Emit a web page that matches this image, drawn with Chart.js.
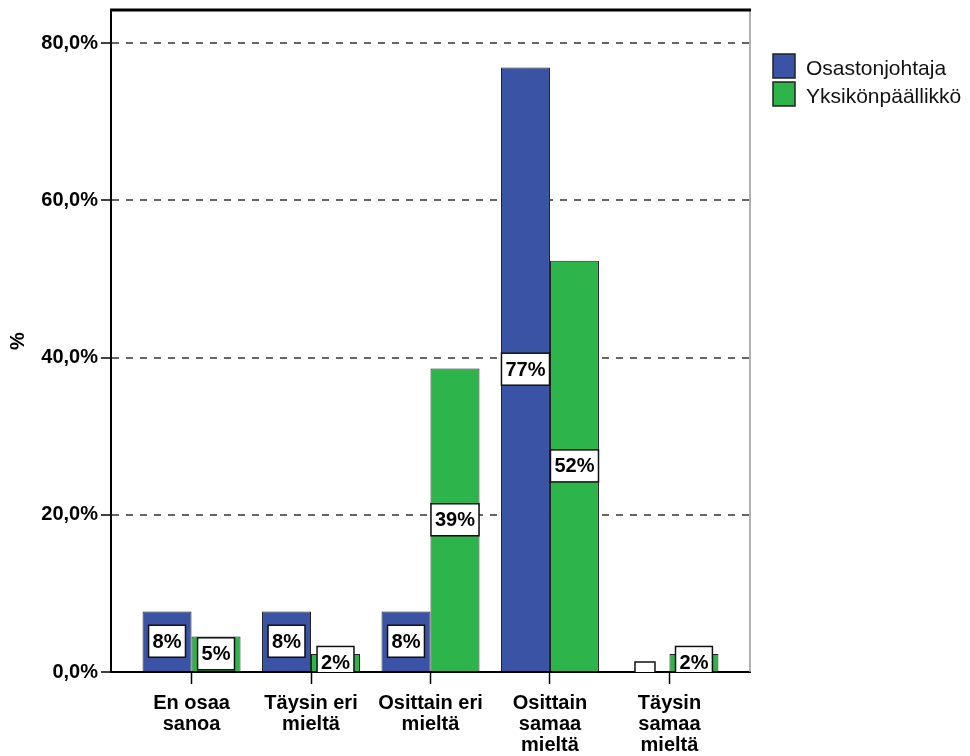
<!DOCTYPE html>
<html>
<head>
<meta charset="utf-8">
<script src="https://cdn.jsdelivr.net/npm/chart.js@4/dist/chart.umd.min.js"></script>
<style>
  html, body { margin: 0; padding: 0; background: #fff; }
  canvas { display: block; }
</style>
</head>
<body>
<canvas id="c" width="970" height="756"></canvas>
<script>
// Answer categories (multi-line axis labels)
const categories = [
  ['En osaa', 'sanoa'],
  ['Täysin eri', 'mieltä'],
  ['Osittain eri', 'mieltä'],
  ['Osittain', 'samaa', 'mieltä'],
  ['Täysin', 'samaa', 'mieltä']
];
// Share of respondents (%) per group
const osastonjohtaja = [7.7, 7.7, 7.7, 76.9, 0];
const yksikonpaallikko = [4.5, 2.3, 38.6, 52.3, 2.3];
const seriesNames = ['Osastonjohtaja', 'Yksikönpäällikkö'];
const yTicks = [0, 20, 40, 60, 80];

const FONT = "'Liberation Sans', Arial, sans-serif";
const BLUE = '#3a53a5';
const GREEN = '#2db44b';

const toPoints = vals => vals.map((v, i) => ({ x: i, y: v }));

// White boxed value labels centred on each bar, clipped to the plot area
const valueLabels = {
  id: 'valueLabels',
  afterDatasetsDraw(chart) {
    const { ctx, chartArea: a } = chart;
    ctx.save();
    ctx.beginPath();
    ctx.rect(a.left, a.top, a.right - a.left, a.bottom - a.top);
    ctx.clip();
    ctx.font = 'bold 20px ' + FONT;
    ctx.textAlign = 'center';
    ctx.textBaseline = 'middle';
    chart.data.datasets.forEach((ds, di) => {
      const meta = chart.getDatasetMeta(di);
      meta.data.forEach((bar, i) => {
        const v = ds.data[i].y;
        const cy = (bar.y + bar.base) / 2;
        const text = v > 0 ? Math.round(v) + '%' : '';
        const w = text ? ctx.measureText(text).width + 8 : 20;
        const h = text ? 32 : 20;
        ctx.fillStyle = '#fff';
        ctx.fillRect(bar.x - w / 2, cy - h / 2, w, h);
        ctx.strokeStyle = '#111';
        ctx.lineWidth = 1.5;
        ctx.strokeRect(bar.x - w / 2, cy - h / 2, w, h);
        if (text) {
          ctx.fillStyle = '#000';
          ctx.fillText(text, bar.x, cy + 1);
        }
      });
    });
    ctx.restore();
  }
};

// Plot frame (heavy top edge, light right edge) and the legend on the right
const frameAndLegend = {
  id: 'frameAndLegend',
  afterDraw(chart) {
    const { ctx, chartArea: a } = chart;
    ctx.save();
    ctx.strokeStyle = '#999';
    ctx.lineWidth = 1.5;
    ctx.beginPath();
    ctx.moveTo(a.right, a.top);
    ctx.lineTo(a.right, a.bottom);
    ctx.stroke();
    ctx.strokeStyle = '#000';
    ctx.lineWidth = 3;
    ctx.beginPath();
    ctx.moveTo(a.left - 1, a.top);
    ctx.lineTo(a.right + 1, a.top);
    ctx.stroke();

    const lx = a.right + 23;
    chart.data.datasets.forEach((ds, i) => {
      const y = 54 + i * 28;
      ctx.fillStyle = ds.backgroundColor;
      ctx.fillRect(lx, y, 22, 24);
      ctx.strokeStyle = '#222';
      ctx.lineWidth = 1.5;
      ctx.strokeRect(lx, y, 22, 24);
      ctx.fillStyle = '#111';
      ctx.font = '21px ' + FONT;
      ctx.textAlign = 'left';
      ctx.textBaseline = 'middle';
      ctx.fillText(ds.label, lx + 33, y + 15);
    });
    ctx.restore();
  }
};

new Chart(document.getElementById('c'), {
  type: 'bar',
  data: {
    datasets: [
      { label: seriesNames[0], data: toPoints(osastonjohtaja), backgroundColor: BLUE, borderColor: '#222', borderWidth: 1 },
      { label: seriesNames[1], data: toPoints(yksikonpaallikko), backgroundColor: GREEN, borderColor: '#222', borderWidth: 1 }
    ]
  },
  options: {
    responsive: false,
    animation: false,
    layout: { padding: { top: 10, right: 220, left: 0, bottom: 0 } },
    datasets: { bar: { categoryPercentage: 0.82, barPercentage: 1.0 } },
    plugins: { legend: { display: false }, tooltip: { enabled: false } },
    scales: {
      x: {
        type: 'linear',
        offset: false,
        min: -0.674,
        max: 4.674,
        afterBuildTicks: s => { s.ticks = categories.map((_, i) => ({ value: i })); },
        afterFit: s => { s.height = 84; },
        ticks: {
          autoSkip: false,
          maxRotation: 0,
          padding: 9,
          color: '#000',
          font: { family: FONT, size: 20, weight: 'bold', lineHeight: 1.05 },
          callback: v => categories[v]
        },
        grid: { offset: false, drawOnChartArea: false, drawTicks: true, tickLength: 12, tickColor: '#000', tickWidth: 1.5 },
        border: { color: '#000', width: 2 }
      },
      y: {
        min: 0,
        max: 84.2,
        afterBuildTicks: s => { s.ticks = yTicks.map(v => ({ value: v })); },
        afterFit: s => { s.width = 111; s.paddingTop = 0; s.paddingBottom = 0; },
        ticks: {
          padding: 3,
          color: '#000',
          font: { family: FONT, size: 20, weight: 'bold' },
          callback: v => v.toFixed(1).replace('.', ',') + '%'
        },
        title: {
          display: true,
          text: '%',
          color: '#000',
          font: { family: FONT, size: 20, weight: 'bold' },
          padding: { top: 6, bottom: 0 }
        },
        grid: {
          color: c => (c.tick && c.tick.value === 0 ? 'rgba(0,0,0,0)' : '#666'),
          lineWidth: 2,
          drawTicks: true,
          tickLength: 10,
          tickColor: '#000',
          tickWidth: 1.5,
          tickBorderDash: []
        },
        border: { color: '#000', width: 2, dash: [7, 7] }
      }
    }
  },
  plugins: [valueLabels, frameAndLegend]
});
</script>
</body>
</html>
